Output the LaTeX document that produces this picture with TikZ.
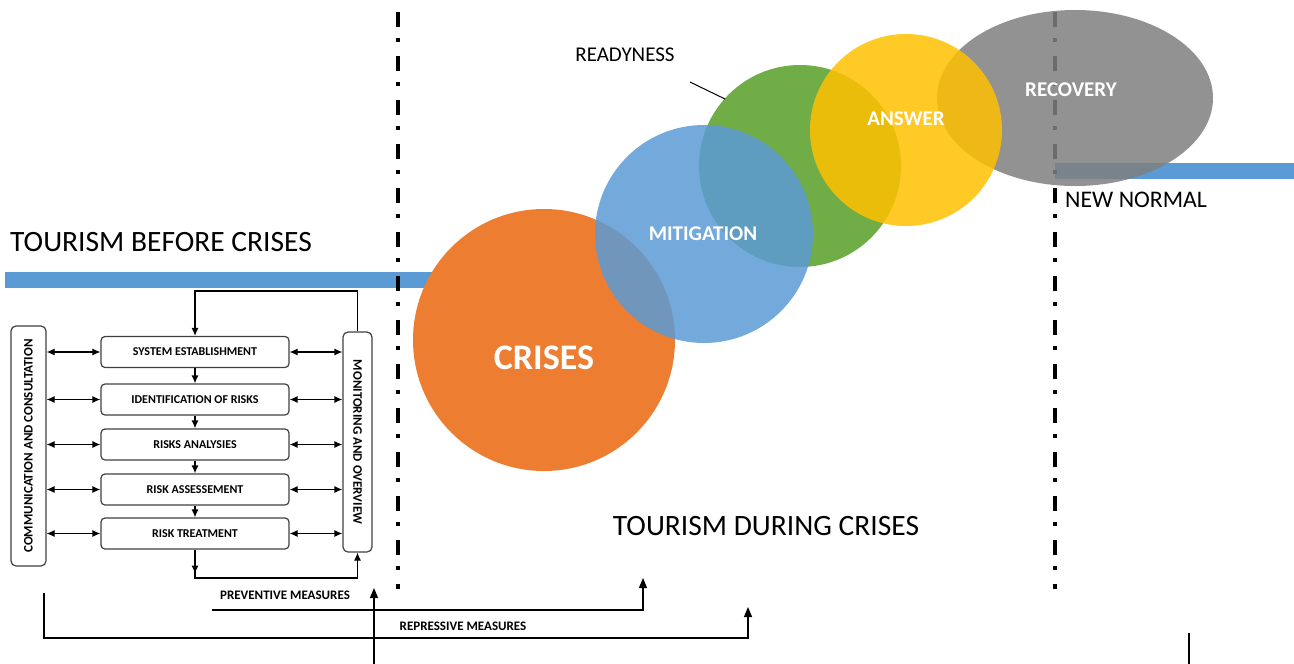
\documentclass[tikz,border=0pt]{standalone}
\usepackage{fontspec}
\setmainfont{Carlito}
\usetikzlibrary{arrows.meta}
\definecolor{cOrange}{HTML}{ED7D31}
\definecolor{cBlue}{HTML}{5B9BD5}
\definecolor{cGreen}{HTML}{70AD47}
\definecolor{cYellow}{HTML}{FFC000}
\definecolor{cGray}{HTML}{7F7F7F}
\definecolor{cLine}{HTML}{5B9BD5}
\tikzset{
  flow/.style={draw=black!75, line width=1.2pt, rounded corners=4pt, minimum width=188pt, minimum height=31pt, inner sep=0pt, font=\bfseries\fontsize{12}{14}\selectfont},
  sidebox/.style={draw=black!75, line width=1.2pt, rounded corners=5pt, inner sep=0pt},
  sidetext/.style={font=\bfseries\fontsize{13}{15}\selectfont, inner sep=0pt},
  darr/.style={line width=1.2pt, {Latex[length=8pt,width=7pt]}-{Latex[length=8pt,width=7pt]}},
  arr/.style={line width=1.2pt, -{Latex[length=8pt,width=7pt]}},
  bigarr/.style={line width=1.2pt, -{Triangle[length=10pt,width=8pt]}},
  plain/.style={line width=1.2pt},
  dashdot/.style={line width=4.5pt, dash pattern=on 15pt off 11pt on 4pt off 14pt},
  bluebar/.style={draw=cLine, line width=16pt},
  bigtxt/.style={font=\fontsize{29.5}{32}\selectfont, inner sep=0pt},
  midtxt/.style={font=\fontsize{21}{24}\selectfont, inner sep=0pt},
  whitetxt/.style={font=\bfseries\fontsize{21}{24}\selectfont, text=white, inner sep=0pt},
  meastxt/.style={font=\bfseries\fontsize{13}{15}\selectfont, inner sep=0pt},
}
\begin{document}
\begin{tikzpicture}[x=1pt,y=-1pt]
\useasboundingbox (0,0) rectangle (1294,664);
% blue bars
\coordinate (b0) at (5,280); \coordinate (b1) at (445,280);
\draw[bluebar] (b0) -- (b1);
\coordinate (c0) at (1055,170.5); \coordinate (c1) at (1294,170.5);
\draw[bluebar] (c0) -- (c1);
% dash-dot separators
\coordinate (d0) at (398,12); \coordinate (d1) at (398,589);
\draw[dashdot] (d0) -- (d1);
\coordinate (e0) at (1055,12); \coordinate (e1) at (1055,589);
\draw[dashdot] (e0) -- (e1);
% circles
\fill[cOrange] (544,340) circle[radius=131];
\fill[cGray, opacity=0.85] (1075,98) ellipse[x radius=138, y radius=88];
\fill[cGreen] (800,166) circle[radius=101];
\fill[cBlue, opacity=0.85] (704,234) circle[radius=109];
\fill[cYellow, opacity=0.85] (906,130) circle[radius=96];
% circle labels
\node[whitetxt, font=\bfseries\fontsize{36}{40}\selectfont] (crises) at (544,358) {CRISES};
\node[whitetxt] (mitig) at (703,234) {MITIGATION};
\node[whitetxt] (answer) at (906,119) {ANSWER};
\node[whitetxt] (recov) at (1071,90) {RECOVERY};
% readyness
\node[midtxt] (ready) at (625,55) {READYNESS};
\coordinate (rl0) at (690,82); \coordinate (rl1) at (725,99);
\draw[line width=1pt] (rl0) -- (rl1);
% big texts
\node[bigtxt, anchor=west] (before) at (10,242) {TOURISM BEFORE CRISES};
\node[bigtxt] (during) at (766,526) {TOURISM DURING CRISES};
\node[midtxt, font=\fontsize{23.8}{26}\selectfont, anchor=west] (newn) at (1065,199.5) {NEW NORMAL};
% flowchart
\node[flow] (s1) at (195,352) {SYSTEM ESTABLISHMENT};
\node[flow] (s2) at (195,399.5) {IDENTIFICATION OF RISKS};
\node[flow] (s3) at (195,444.5) {RISKS ANALYSIES};
\node[flow] (s4) at (195,489.5) {RISK ASSESSEMENT};
\node[flow] (s5) at (195,533.5) {RISK TREATMENT};
\node[sidebox, minimum width=35pt, minimum height=240pt] (comm) at (28.5,446) {};
\node[sidetext, rotate=90] (commt) at (comm.center) {COMMUNICATION AND CONSULTATION};
\node[sidebox, minimum width=29pt, minimum height=220pt] (mon) at (357.5,442) {};
\node[sidetext, rotate=-90] (mont) at (mon.center) {MONITORING AND OVERVIEW};
\foreach \s in {s1,s2,s3,s4,s5}{
  \draw[darr] (comm.east |- \s.west) -- (\s.west);
  \draw[darr] (\s.east) -- (mon.west |- \s.east);
}
\draw[arr] (s1.south) -- (s2.north);
\draw[arr] (s2.south) -- (s3.north);
\draw[arr] (s3.south) -- (s4.north);
\draw[arr] (s4.south) -- (s5.north);
\coordinate (tl) at (195,291);
\draw[arr] (mon.north) |- (tl) -- (s1.north);
\coordinate (bl) at (195,578);
\draw[arr] (s5.south) -- (bl) -| (mon.south);
\draw[arr] (s5.south) -- ++(0,24);
% measures
\node[meastxt] (prev) at (285,595) {PREVENTIVE MEASURES};
\node[meastxt] (repr) at (463,626) {REPRESSIVE MEASURES};
\coordinate (p0) at (212,610); \coordinate (p1) at (643,578);
\draw[bigarr] (p0) -| (p1);
\coordinate (r0) at (44,593); \coordinate (rc) at (44,638); \coordinate (r1) at (748,607);
\draw[bigarr] (r0) -- (rc) -| (r1);
\coordinate (v0) at (374,664); \coordinate (v1) at (374,588);
\draw[bigarr] (v0) -- (v1);
\coordinate (w0) at (1189,633); \coordinate (w1) at (1189,664);
\draw[plain] (w0) -- (w1);
\end{tikzpicture}
\end{document}
